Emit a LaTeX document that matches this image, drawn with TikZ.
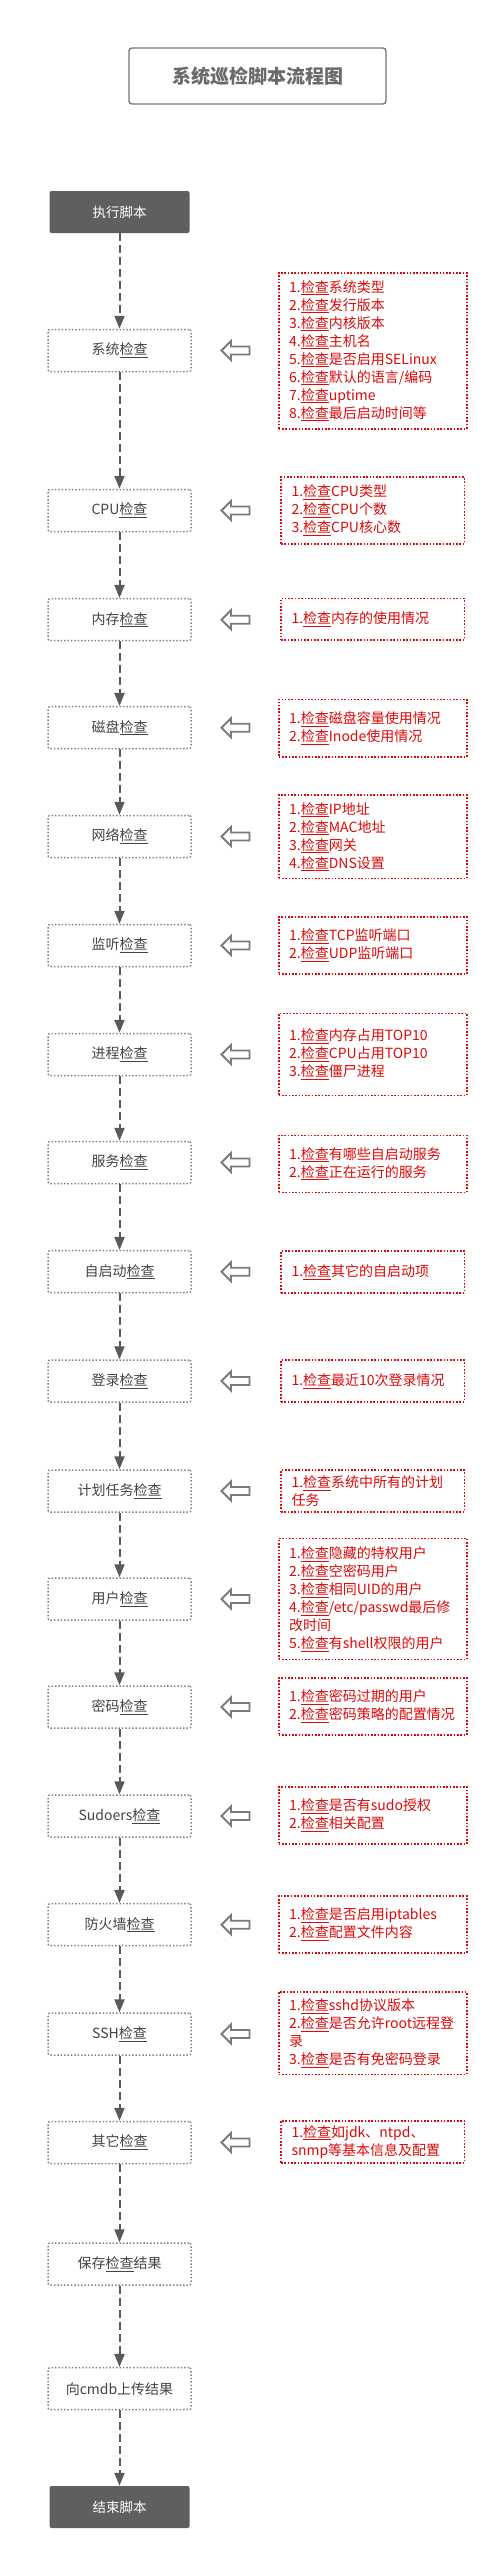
\documentclass[tikz,border=0pt]{standalone}
\usepackage{fontspec}
\setmainfont{Noto Sans CJK SC}
\usetikzlibrary{arrows.meta}
\definecolor{stepgray}{HTML}{858585}
\definecolor{steptext}{HTML}{444444}
\definecolor{termfill}{HTML}{5F5F5F}
\definecolor{flowgray}{HTML}{5A5A5A}
\definecolor{hollowgray}{HTML}{7A7A7A}
\definecolor{redline}{HTML}{DC0A0A}
\definecolor{titlegray}{HTML}{6A6A6A}
\definecolor{titleline}{HTML}{767676}
\newcommand\jc{\underline{检查}}
\tikzset{
  titlebox/.style={draw=titleline, line width=1.4pt, rounded corners=3pt, minimum width=257pt, minimum height=56pt, text=titlegray, font=\fontsize{19}{22}\selectfont\bfseries},
  stepbox/.style={draw=stepgray, line width=1.5pt, dash pattern=on 1.5pt off 1.9pt, rounded corners=2pt, minimum width=143pt, minimum height=42pt, text=steptext, font=\fontsize{14}{17}\selectfont, inner sep=0pt},
  termbox/.style={fill=termfill, rounded corners=2pt, minimum width=140pt, minimum height=42pt, text=white, font=\fontsize{13.5}{16}\selectfont, inner sep=0pt},
  redbox/.style={draw=redline, line width=1.6pt, dash pattern=on 1.6pt off 1.7pt, text=redline, font=\fontsize{14}{18}\selectfont, align=left, inner xsep=10.5pt, inner ysep=0pt},
  flow/.style={draw=flowgray, line width=2pt, dash pattern=on 8pt off 4pt, -{Triangle[width=10pt,length=13pt]}},
  hollow/.style={draw=hollowgray, line width=1.9pt, line join=miter, fill=white},
}
\newcommand\harrow[1]{\draw[hollow,shift={(0,#1)}] (221.5,0) -- (231,-9.5) -- (231,-4) -- (249.5,-4) -- (249.5,4) -- (231,4) -- (231,9.5) -- cycle;}
% wide box: x 278.7..466.7 (w=188), narrow: 281..464.3 (w=183.3)
\newcommand\wbox[4]{\node[redbox, text width=167pt, minimum height=#3pt] (#1) at (372.7,#2) {#4};}
\newcommand\nbox[4]{\node[redbox, text width=162.3pt, minimum height=#3pt] (#1) at (372.65,#2) {#4};}
\begin{document}
\begin{tikzpicture}[x=1pt,y=-1pt]
\fill[white] (0,0) rectangle (497,2561);
\useasboundingbox (0,0) rectangle (497,2561);

\node[titlebox] (title) at (257.5,76) {系统巡检脚本流程图};

\node[termbox] (start) at (119.5,212) {执行脚本};
\node[stepbox] (s1) at (119.5,350.5) {系统\jc};
\node[stepbox] (s2) at (119.5,510.5) {CPU\jc};
\node[stepbox] (s3) at (119.5,619.7) {内存\jc};
\node[stepbox] (s4) at (119.5,727.7) {磁盘\jc};
\node[stepbox] (s5) at (119.5,836.5) {网络\jc};
\node[stepbox] (s6) at (119.5,945.5) {监听\jc};
\node[stepbox] (s7) at (119.5,1054.5) {进程\jc};
\node[stepbox] (s8) at (119.5,1162.5) {服务\jc};
\node[stepbox] (s9) at (119.5,1271.7) {自启动\jc};
\node[stepbox] (s10) at (119.5,1381) {登录\jc};
\node[stepbox] (s11) at (119.5,1491) {计划任务\jc};
\node[stepbox] (s12) at (119.5,1599) {用户\jc};
\node[stepbox] (s13) at (119.5,1707) {密码\jc};
\node[stepbox] (s14) at (119.5,1816) {Sudoers\jc};
\node[stepbox] (s15) at (119.5,1924.7) {防火墙\jc};
\node[stepbox] (s16) at (119.5,2034) {SSH\jc};
\node[stepbox] (s17) at (119.5,2142.5) {其它\jc};
\node[stepbox] (s18) at (119.5,2264) {保存\jc 结果};
\node[stepbox] (s19) at (119.5,2388.7) {向cmdb上传结果};
\node[termbox] (end) at (119.5,2507) {结束脚本};

\draw[flow] (start.south) -- (s1.north);
\draw[flow] (s1.south) -- (s2.north);
\draw[flow] (s2.south) -- (s3.north);
\draw[flow] (s3.south) -- (s4.north);
\draw[flow] (s4.south) -- (s5.north);
\draw[flow] (s5.south) -- (s6.north);
\draw[flow] (s6.south) -- (s7.north);
\draw[flow] (s7.south) -- (s8.north);
\draw[flow] (s8.south) -- (s9.north);
\draw[flow] (s9.south) -- (s10.north);
\draw[flow] (s10.south) -- (s11.north);
\draw[flow] (s11.south) -- (s12.north);
\draw[flow] (s12.south) -- (s13.north);
\draw[flow] (s13.south) -- (s14.north);
\draw[flow] (s14.south) -- (s15.north);
\draw[flow] (s15.south) -- (s16.north);
\draw[flow] (s16.south) -- (s17.north);
\draw[flow] (s17.south) -- (s18.north);
\draw[flow] (s18.south) -- (s19.north);
\draw[flow] (s19.south) -- (end.north);

\harrow{350.5}\harrow{510.5}\harrow{619.7}\harrow{727.7}\harrow{836.5}
\harrow{945.5}\harrow{1054.5}\harrow{1162.5}\harrow{1271.7}\harrow{1381}
\harrow{1491}\harrow{1599}\harrow{1707}\harrow{1816}\harrow{1924.7}
\harrow{2034}\harrow{2142.5}

\wbox{r1}{350.7}{156}{1.\jc 系统类型\\2.\jc 发行版本\\3.\jc 内核版本\\4.\jc 主机名\\5.\jc 是否启用SELinux\\6.\jc 默认的语言/编码\\7.\jc uptime\\8.\jc 最后启动时间等}
\nbox{r2}{510.35}{66.7}{1.\jc CPU类型\\2.\jc CPU个数\\3.\jc CPU核心数}
\nbox{r3}{619}{41.4}{1.\jc 内存的使用情况}
\wbox{r4}{728}{57.4}{1.\jc 磁盘容量使用情况\\2.\jc Inode使用情况}
\wbox{r5}{836.65}{83.3}{1.\jc IP地址\\2.\jc MAC地址\\3.\jc 网关\\4.\jc DNS设置}
\wbox{r6}{945.35}{57.3}{1.\jc TCP监听端口\\2.\jc UDP监听端口}
\wbox{r7}{1054.3}{82}{1.\jc 内存占用TOP10\\2.\jc CPU占用TOP10\\3.\jc 僵尸进程}
\wbox{r8}{1163.8}{57}{1.\jc 有哪些自启动服务\\2.\jc 正在运行的服务}
\nbox{r9}{1271.85}{41.7}{1.\jc 其它的自启动项}
\nbox{r10}{1380.85}{41.7}{1.\jc 最近10次登录情况}
\nbox{r11}{1490.85}{41.7}{1.\jc 系统中所有的计划\\任务}
\wbox{r12}{1598.8}{121}{1.\jc 隐藏的特权用户\\2.\jc 空密码用户\\3.\jc 相同UID的用户\\4.\jc /etc/passwd最后修\\改时间\\5.\jc 有shell权限的用户}
\wbox{r13}{1706.35}{57.3}{1.\jc 密码过期的用户\\2.\jc 密码策略的配置情况}
\wbox{r14}{1815.35}{57.3}{1.\jc 是否有sudo授权\\2.\jc 相关配置}
\wbox{r15}{1924.35}{56.7}{1.\jc 是否启用iptables\\2.\jc 配置文件内容}
\wbox{r16}{2033.15}{82.3}{1.\jc sshd协议版本\\2.\jc 是否允许root远程登\\录\\3.\jc 是否有免密码登录}
\nbox{r17}{2141.7}{42}{1.\jc 如jdk、ntpd、\\snmp等基本信息及配置}
\end{tikzpicture}
\end{document}
